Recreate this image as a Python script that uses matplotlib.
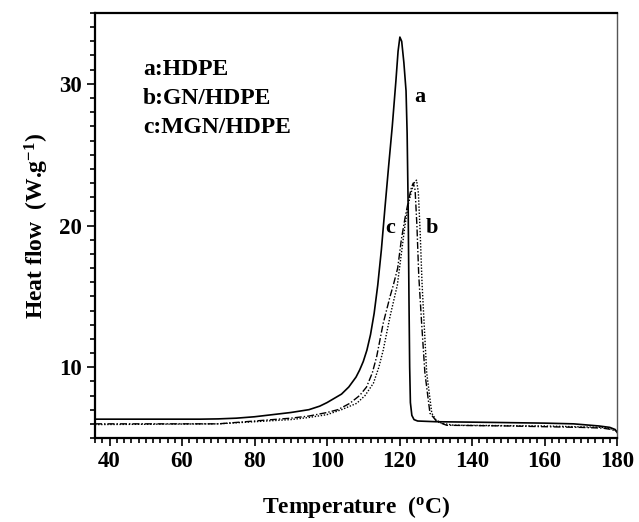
import numpy as np
import matplotlib
matplotlib.use("Agg")
import matplotlib.pyplot as plt
from matplotlib.ticker import MultipleLocator

plt.rcParams['font.family'] = ['Liberation Serif', 'DejaVu Serif']
plt.rcParams['font.weight'] = 'bold'
plt.rcParams['mathtext.fontset'] = 'custom'
plt.rcParams['mathtext.rm'] = 'Liberation Serif:bold'
plt.rcParams['mathtext.bf'] = 'Liberation Serif:bold'
plt.rcParams['mathtext.it'] = 'Liberation Serif:bold'

# curve a: HDPE (solid)
t_a = [36, 65, 70, 75, 80, 85, 90, 95, 98, 100, 102, 104, 106, 108, 109, 110, 111,
       112, 113, 114, 115, 116, 117, 118, 119, 119.6, 120.1, 120.6, 121.2,
       121.8, 122.1, 122.4, 122.6, 122.8, 123.0, 123.4, 124.0, 125, 130, 140,
       160, 168, 175, 178, 179.5, 180]
h_a = [6.33, 6.33, 6.35, 6.4, 6.5, 6.65, 6.8, 7.0, 7.25, 7.5, 7.8, 8.1, 8.6, 9.3, 9.8,
       10.4, 11.2, 12.3, 13.8, 15.8, 18.3, 21.3, 24.2, 27.0, 30.2, 32.3, 33.3,
       33.0, 31.5, 29.5, 26.5, 21.0, 15.0, 10.0, 7.5, 6.6, 6.3, 6.2, 6.15, 6.12,
       6.05, 6.0, 5.85, 5.75, 5.6, 5.4]

# curve b: GN/HDPE (dotted)
t_b = [36, 70, 80, 90, 95, 100, 104, 108.2, 110.5, 112.8, 114.3, 115.5, 117.4,
       119.4, 120.5, 121.5, 122.5, 123.5, 124.2, 124.7, 125.2, 125.7, 126.2,
       126.6, 127.5, 128.9, 130, 131.6, 135, 160, 176, 178.5, 180]
h_b = [5.95, 6.0, 6.15, 6.3, 6.45, 6.65, 7.0, 7.45, 8.0, 8.87, 10.0, 11.2, 13.6,
       15.8, 18.0, 20.0, 21.6, 22.6, 23.1, 23.2, 22.3, 19.5, 16.0, 14.0, 9.6,
       6.75, 6.3, 6.04, 5.9, 5.85, 5.75, 5.65, 5.5]

# curve c: MGN/HDPE (dash-dot)
t_c = [36, 70, 75, 80, 85, 90, 95, 100, 103, 106.3, 109, 110.9, 112.5, 113.7,
       115.5, 117.4, 118.3, 119.5, 120.5, 121.5, 122.5, 123.3, 123.8, 124.3,
       124.8, 125.3, 126.1, 127, 128.4, 130.3, 133, 150, 170, 176, 178.5, 180]
h_c = [6.0, 6.0, 6.1, 6.2, 6.3, 6.4, 6.55, 6.8, 7.0, 7.45, 8.0, 8.6, 9.6, 10.75,
       13.1, 15.0, 15.8, 17.0, 19.0, 20.5, 21.8, 22.7, 23.0, 22.5, 20.0, 16.5,
       13.1, 9.6, 6.75, 6.16, 5.9, 5.85, 5.75, 5.7, 5.6, 5.45]

fig = plt.figure(figsize=(6.39, 5.22), dpi=100)
ax = fig.add_axes([0.1487, 0.1609, 0.8169, 0.8142])

ax.plot(t_a, h_a, color='black', lw=1.2, ls='-')
ax.plot(t_b, h_b, color='black', lw=1.0, ls=(0, (1, 1.2)))
ax.plot(t_c, h_c, color='black', lw=1.0, ls=(0, (5, 1.5, 1, 1.5)))

ax.set_xlim(36, 180)
ax.set_ylim(5, 35)
ax.xaxis.set_major_locator(MultipleLocator(20))
ax.xaxis.set_minor_locator(MultipleLocator(2))
ax.yaxis.set_major_locator(MultipleLocator(10))
ax.yaxis.set_minor_locator(MultipleLocator(1))
ax.tick_params(which='both', direction='out', top=False, right=False,
               labelsize=16.5, width=1.2)
ax.tick_params(which='major', length=6)
ax.tick_params(which='minor', length=3.5)
for lab in ax.get_xticklabels() + ax.get_yticklabels():
    lab.set_fontweight('bold')

for side in ['left', 'bottom', 'top']:
    ax.spines[side].set_linewidth(1.6)
ax.spines['right'].set_linewidth(1.0)
ax.spines['right'].set_color('#555555')

ax.set_xlabel(r'Temperature  ($\mathrm{^{o}}$C)', fontsize=17, fontweight='bold',
              labelpad=16)
ax.set_ylabel(r'Heat flow  (W.g$\mathrm{^{-1}}$)', fontsize=17, fontweight='bold',
              labelpad=6)

legend_lines = ['a:HDPE', 'b:GN/HDPE', 'c:MGN/HDPE']
for i, txt in enumerate(legend_lines):
    ax.text(0.092, 0.866 - i * 0.068, txt, transform=ax.transAxes,
            fontsize=17, fontweight='bold', va='center', ha='left')

ax.text(125.7, 29.1, 'a', fontsize=16, fontweight='bold', ha='center', va='center')
ax.text(129, 19.8, 'b', fontsize=16, fontweight='bold', ha='center', va='center')
ax.text(117.4, 19.8, 'c', fontsize=16, fontweight='bold', ha='center', va='center')

fig.savefig('out.png', dpi=100)
